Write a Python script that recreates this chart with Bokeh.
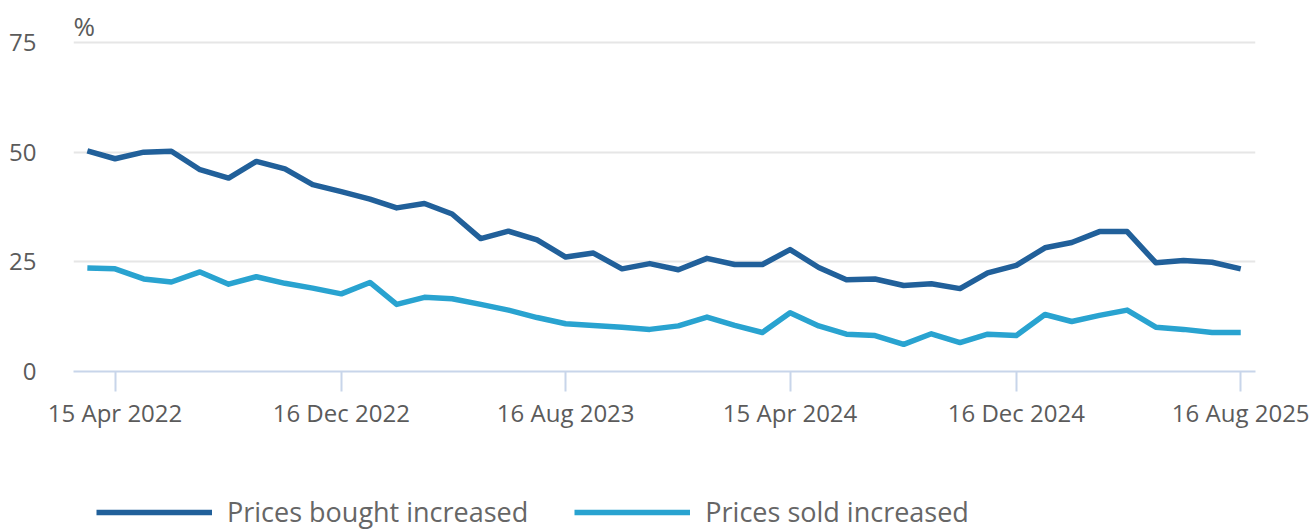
import pandas as pd
from bokeh.plotting import figure
from bokeh.layouts import column
from bokeh.models import (Legend, LegendItem, FixedTicker, DatetimeTickFormatter,
                          Label, Range1d)
from bokeh.embed import file_html
from bokeh.resources import INLINE

# ---- data ----
months = pd.date_range("2022-03-01", "2025-08-01", freq="MS")
dates = [m + pd.Timedelta(days=(m.days_in_month - 1) // 2) for m in months]

prices_bought = [50.3, 48.5, 50.0, 50.2, 46.0, 44.1, 47.9, 46.2, 42.6, 41.0,
                 39.3, 37.3, 38.3, 35.9, 30.3, 32.0, 30.0, 26.1, 27.0, 23.4,
                 24.6, 23.2, 25.8, 24.4, 24.4, 27.8, 23.7, 20.9, 21.1, 19.6,
                 20.0, 18.9, 22.5, 24.2, 28.2, 29.4, 31.9, 31.9, 24.8, 25.3,
                 24.9, 23.4]
prices_sold = [23.6, 23.4, 21.1, 20.4, 22.7, 19.9, 21.6, 20.1, 19.0, 17.7,
               20.3, 15.3, 16.9, 16.6, 15.3, 14.0, 12.3, 10.9, 10.5, 10.1,
               9.6, 10.4, 12.4, 10.5, 8.9, 13.4, 10.4, 8.5, 8.2, 6.2,
               8.6, 6.6, 8.5, 8.2, 13.0, 11.4, 12.8, 14.0, 10.1, 9.6,
               8.9, 8.9]
series_names = ["Prices bought increased", "Prices sold increased"]
tick_dates = ["2022-04-15", "2022-12-16", "2023-08-16",
              "2024-04-15", "2024-12-16", "2025-08-16"]
y_ticks = [0, 25, 50, 75]
unit_label = "%"

FONT = "Open Sans"
DARK = "#21609a"
LIGHT = "#29a3d0"
TXT = "#5b5b5b"
AXC = "#c8d5ea"
LW = 5.5

W = 1315
H_MAIN = 440
H_LEG = 90

x_start, x_end = pd.Timestamp("2022-03-01"), pd.Timestamp("2025-09-01")

p = figure(width=W, height=H_MAIN, output_backend="svg", toolbar_location=None,
           x_axis_type="datetime",
           x_range=Range1d(x_start, x_end),
           y_range=Range1d(0, 82.3),
           min_border_left=73, min_border_right=60, min_border_top=10,
           min_border_bottom=H_MAIN - 371)
p.outline_line_color = None
p.background_fill_color = "white"

p.line(dates, prices_bought, line_color=DARK, line_width=LW, line_join="round")
p.line(dates, prices_sold, line_color=LIGHT, line_width=LW, line_join="round")

# axes
xa = p.xaxis[0]
xa.ticker = FixedTicker(ticks=[pd.Timestamp(d).value / 1e6 for d in tick_dates])
fmt = "%d %b %Y"
xa.formatter = DatetimeTickFormatter(milliseconds=fmt, seconds=fmt, minsec=fmt,
                                     minutes=fmt, hourmin=fmt, hours=fmt, days=fmt,
                                     months=fmt, years=fmt)
xa.axis_line_color = AXC
xa.axis_line_width = 2
xa.major_tick_line_color = AXC
xa.major_tick_line_width = 2
xa.major_tick_out = 20
xa.major_tick_in = 0
xa.minor_tick_line_color = None
xa.major_label_standoff = 4
xa.major_label_text_font = FONT
xa.major_label_text_font_size = "24px"
xa.major_label_text_color = TXT

ya = p.yaxis[0]
ya.ticker = FixedTicker(ticks=y_ticks)
ya.axis_line_color = None
ya.major_tick_line_color = None
ya.minor_tick_line_color = None
ya.major_label_standoff = 31
ya.major_label_text_font = FONT
ya.major_label_text_font_size = "24px"
ya.major_label_text_color = TXT

p.xgrid.grid_line_color = None
p.ygrid.grid_line_color = "#e6e6e6"
p.ygrid.grid_line_width = 2

# unit label
p.add_layout(Label(x=0, x_units="screen", y=75, y_units="data", y_offset=17,
                   text=unit_label, text_font=FONT, text_font_size="26px",
                   text_color=TXT, text_baseline="alphabetic", text_align="left"))

# ---- legend strip (series drawn out of view; only the legend shows) ----
q = figure(width=W, height=H_LEG, output_backend="svg", toolbar_location=None,
           x_axis_location=None, y_axis_location=None,
           x_range=Range1d(0, 1), y_range=Range1d(0, 1),
           min_border_left=0, min_border_right=0, min_border_top=0,
           min_border_bottom=0)
q.outline_line_color = None
q.xgrid.visible = False
q.ygrid.visible = False
k1 = q.line(dates, prices_bought, line_color=DARK, line_width=LW)
k2 = q.line(dates, prices_sold, line_color=LIGHT, line_width=LW)

legend = Legend(items=[LegendItem(label=series_names[0], renderers=[k1]),
                       LegendItem(label=series_names[1], renderers=[k2])],
                orientation="horizontal", location=(23, 0))
legend.glyph_width = 116
legend.glyph_height = 30
legend.label_height = 30
legend.label_standoff = 15
legend.spacing = 46
legend.padding = 0
legend.margin = 0
legend.border_line_color = None
legend.background_fill_alpha = 0
legend.label_text_font = FONT
legend.label_text_font_size = "27px"
legend.label_text_color = "#666666"
q.add_layout(legend)

open("out.html", "w").write(file_html(column(p, q, spacing=0), INLINE))
